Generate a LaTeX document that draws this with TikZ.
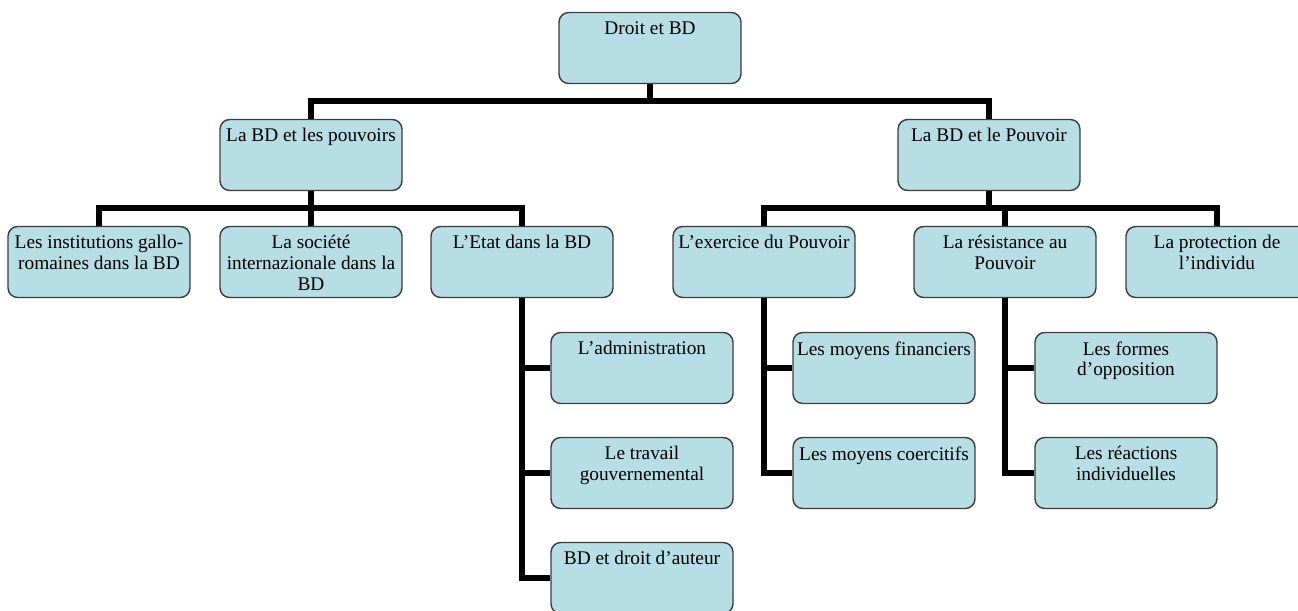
\documentclass[tikz,border=0pt]{standalone}
\usepackage{fontspec}
\setmainfont{Liberation Serif}
\definecolor{boxfill}{RGB}{183,222,228}
\definecolor{boxline}{RGB}{60,60,60}
\newcommand{\boxtext}[1]{\parbox[c][1.36cm][t]{3.55cm}{\vspace*{0.15cm}\centering #1}}
\begin{document}
\begin{tikzpicture}[x=0.02cm, y=-0.02cm,
box/.style={rectangle, rounded corners=5.5pt, draw=boxline, fill=boxfill, line width=0.8pt,
  minimum width=3.64cm, minimum height=1.42cm, inner sep=0pt,
  font=\fontsize{11}{11.8}\selectfont},
link/.style={line width=3.2pt, black},
]
\useasboundingbox (0,0) rectangle (1298,610);
%Nodes
\node[box] (root)       at (650,48)   {\boxtext{Droit et BD}};
\node[box] (pouvoirs)   at (311,155)  {\boxtext{La BD et les pouvoirs}};
\node[box] (pouvoir)    at (989,155)  {\boxtext{La BD et le Pouvoir}};
\node[box] (gallo)      at (99,262)   {\boxtext{Les institutions gallo-\\romaines dans la BD}};
\node[box] (societe)    at (311,262)  {\boxtext{La société\\internazionale dans la\\BD}};
\node[box] (etat)       at (522,262)  {\boxtext{L'Etat dans la BD}};
\node[box] (exercice)   at (764,262)  {\boxtext{L'exercice du Pouvoir}};
\node[box] (resistance) at (1005,262) {\boxtext{La résistance au\\Pouvoir}};
\node[box] (protection) at (1217,262) {\boxtext{La protection de\\l'individu}};
\node[box] (admin)      at (642,368)  {\boxtext{L'administration}};
\node[box] (travail)    at (642,473)  {\boxtext{Le travail\\gouvernemental}};
\node[box] (auteur)     at (642,578)  {\boxtext{BD et droit d'auteur}};
\node[box] (financiers) at (884,368)  {\boxtext{Les moyens financiers}};
\node[box] (coercitifs) at (884,473)  {\boxtext{Les moyens coercitifs}};
\node[box] (formes)     at (1126,368) {\boxtext{Les formes\\d'opposition}};
\node[box] (reactions)  at (1126,473) {\boxtext{Les réactions\\individuelles}};

%Lines
\coordinate (bus0) at (650,101);
\coordinate (bus1) at (311,208);
\coordinate (bus2) at (989,208);
\draw[link] (root.south) -- (bus0) -| (pouvoirs.north);
\draw[link] (bus0) -| (pouvoir.north);
\draw[link] (pouvoirs.south) -- (bus1) -| (gallo.north);
\draw[link] (bus1) -| (etat.north);
\draw[link] (bus1) -- (societe.north);
\draw[link] (pouvoir.south) -- (bus2) -| (exercice.north);
\draw[link] (bus2) -| (protection.north);
\draw[link] (bus2) -| (resistance.north);
\draw[link] (etat.south) |- (auteur.west);
\draw[link] (etat.south) |- (admin.west);
\draw[link] (etat.south) |- (travail.west);
\draw[link] (exercice.south) |- (coercitifs.west);
\draw[link] (exercice.south) |- (financiers.west);
\draw[link] (resistance.south) |- (reactions.west);
\draw[link] (resistance.south) |- (formes.west);
\end{tikzpicture}
\end{document}
